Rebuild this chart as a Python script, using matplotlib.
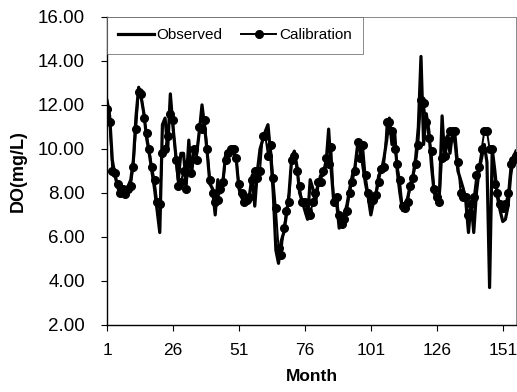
import matplotlib
matplotlib.use("Agg")
import matplotlib.pyplot as plt
import numpy as np

months = np.arange(1, 157)

calibration = [
    11.8, 11.2, 9.0, 8.9, 8.4, 8.0, 8.2, 7.95, 8.2, 8.3,
    9.2, 10.9, 12.6, 12.5, 11.4, 10.7, 10.0, 9.2, 8.6, 7.6,
    7.5, 9.8, 10.0, 10.6, 11.6, 11.3, 9.5, 8.3, 8.5, 9.0,
    8.2, 9.4, 8.9, 10.0, 9.5, 11.0, 10.9, 11.3, 10.0, 8.6,
    8.0, 7.6, 7.7, 8.2, 8.5, 9.5, 9.8, 10.0, 10.0, 9.6,
    8.4, 8.0, 7.6, 7.7, 7.8, 8.6, 9.0, 8.7, 9.0, 10.6,
    10.6, 9.7, 10.2, 8.7, 7.3, 5.5, 5.2, 6.4, 7.2, 7.6,
    9.5, 9.7, 9.0, 8.3, 7.6, 7.6, 7.2, 7.0, 7.6, 8.0,
    8.5, 8.5, 9.0, 9.6, 9.3, 10.1, 7.6, 7.8, 7.0, 6.6,
    6.8, 7.2, 8.0, 8.5, 9.0, 10.3, 9.6, 10.2, 8.8, 8.0,
    7.7, 7.7, 7.9, 8.5, 9.1, 9.2, 11.2, 11.2, 10.8, 10.0,
    9.3, 8.6, 7.4, 7.3, 7.6, 8.3, 8.7, 9.3, 10.2, 12.2,
    12.1, 11.2, 10.5, 9.9, 8.2, 7.8, 7.6, 9.6, 9.7, 10.4,
    10.8, 10.8, 10.8, 9.4, 8.0, 7.8, 7.8, 7.0, 7.5, 7.8,
    8.8, 9.2, 10.0, 10.8, 10.8, 10.0, 10.0, 8.4, 8.0, 7.5,
    7.3, 7.5, 8.0, 9.3, 9.5, 9.7,
]

observed = [
    12.2, 11.5, 9.5, 8.8, 8.3, 7.9, 8.0, 8.0, 8.3, 8.6,
    9.5, 11.5, 12.8, 12.3, 11.6, 10.5, 9.8, 9.0, 8.2, 7.2,
    6.2, 11.1, 11.4, 10.0, 12.5, 11.0, 9.8, 8.6, 9.8, 9.8,
    8.4, 10.4, 8.8, 10.0, 9.8, 10.8, 12.0, 11.0, 9.8, 8.4,
    8.2, 7.0, 8.6, 8.0, 8.6, 9.8, 9.6, 10.0, 9.8, 9.5,
    8.2, 7.8, 7.6, 7.8, 7.9, 8.8, 7.4, 9.0, 10.0, 10.4,
    10.8, 11.1, 9.8, 8.0, 5.4, 4.8, 5.8, 6.2, 7.0, 8.0,
    9.6, 9.9, 9.2, 8.0, 7.6, 7.2, 6.8, 8.6, 8.2, 7.5,
    8.4, 8.8, 8.8, 9.3, 10.9, 9.0, 7.5, 7.6, 6.4, 6.6,
    7.0, 7.5, 8.2, 8.8, 9.2, 10.2, 10.2, 9.2, 8.4, 7.8,
    7.0, 7.6, 8.0, 8.8, 9.0, 9.6, 10.4, 11.4, 10.2, 10.8,
    9.0, 8.0, 7.2, 7.4, 7.8, 8.4, 8.8, 9.6, 11.0, 14.2,
    10.2, 11.6, 10.8, 9.2, 8.0, 7.7, 8.0, 11.5, 9.5, 10.6,
    9.8, 10.8, 10.2, 9.0, 8.6, 8.2, 7.6, 6.2, 7.6, 6.2,
    8.0, 9.0, 9.6, 10.2, 9.4, 3.7, 10.0, 9.0, 7.8, 7.2,
    6.7, 6.8, 7.4, 8.8, 9.6, 9.9,
]

x_ticks = [1, 26, 51, 76, 101, 126, 151]
y_ticks = [2, 4, 6, 8, 10, 12, 14, 16]

plt.rcParams['font.family'] = ['Liberation Sans', 'DejaVu Sans']

fig = plt.figure(figsize=(5.17, 3.92), dpi=100)
ax = fig.add_axes([0.207, 0.171, 0.791, 0.786])

ax.plot(months, observed, color='black', linewidth=2.3, label='Observed', zorder=2)
ax.plot(months, calibration, color='black', linewidth=1.4, marker='o',
        markersize=5.5, label='Calibration', zorder=3)

ax.set_xlim(1, 156)
ax.set_ylim(2, 16)
ax.set_xticks(x_ticks)
ax.set_xticklabels([str(t) for t in x_ticks], fontsize=12.5)
ax.set_yticks(y_ticks)
ax.set_yticklabels([f"{t:.2f}" for t in y_ticks], fontsize=13.5)
ax.tick_params(axis='both', direction='out', length=4, width=0.8)
ax.tick_params(axis='x', pad=9)
ax.tick_params(axis='y', pad=12)

for s in ['top', 'right']:
    ax.spines[s].set_linewidth(0.6)
    ax.spines[s].set_color('#777777')
for s in ['left', 'bottom']:
    ax.spines[s].set_linewidth(1.0)

ax.set_xlabel('Month', fontsize=12.5, fontweight='bold', labelpad=8)
ax.set_ylabel('DO(mg/L)', fontsize=13, fontweight='bold', labelpad=8)

leg = ax.legend(loc='upper left', ncol=2, fontsize=11, frameon=True,
                fancybox=False, edgecolor='#555555', handlelength=2.3,
                columnspacing=1.2, handletextpad=0.2, borderaxespad=0.0,
                borderpad=0.75, markerscale=1.0)
leg.get_frame().set_linewidth(0.6)

fig.savefig('out.png', dpi=100)
